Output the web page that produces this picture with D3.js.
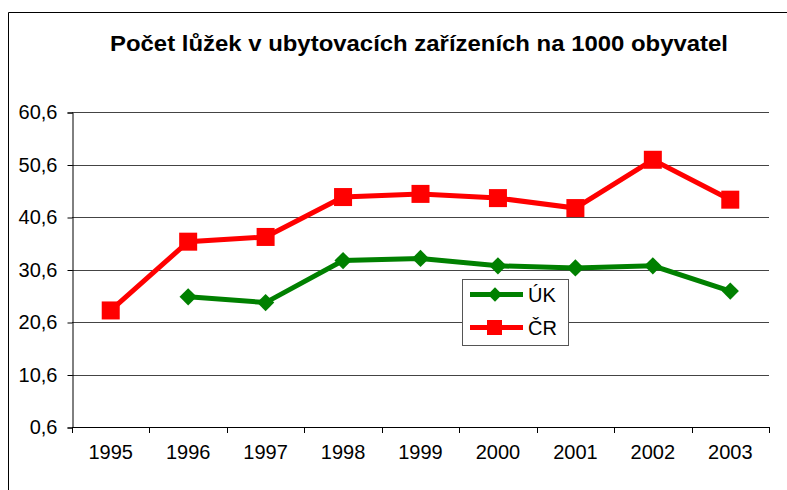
<!DOCTYPE html>
<html>
<head>
<meta charset="utf-8">
<script src="https://cdn.jsdelivr.net/npm/d3@7"></script>
<style>
  body { margin: 0; background: #fff; }
  text { font-family: "Liberation Sans", Arial, sans-serif; }
</style>
</head>
<body>
<script>
// data
var years = ["1995", "1996", "1997", "1998", "1999", "2000", "2001", "2002", "2003"];
var ukValues = [null, 25.4, 24.3, 32.3, 32.7, 31.3, 30.9, 31.3, 26.5];
var crValues = [22.8, 35.9, 36.8, 44.4, 45.0, 44.2, 42.3, 51.5, 43.9];
var yTicks = [0.6, 10.6, 20.6, 30.6, 40.6, 50.6, 60.6];
var title = "Počet lůžek v ubytovacích zařízeních na 1000 obyvatel";

var width = 787,
    height = 490;

var plot = { left: 72, top: 112, right: 769, bottom: 427 };

var svg = d3.select("body").append("svg")
    .attr("width", width)
    .attr("height", height);

// outer chart frame (right and bottom edges fall outside the picture)
svg.append("path")
    .attr("d", "M8.5,491 V12.5 H790")
    .attr("fill", "none")
    .attr("stroke", "#000")
    .attr("stroke-width", 1);

// title is stretched wide in the original
svg.append("text")
    .attr("x", 110)
    .attr("y", 51)
    .attr("textLength", 618)
    .attr("lengthAdjust", "spacingAndGlyphs")
    .style("font-size", "22px")
    .style("font-weight", "bold")
    .text(title);

var x = d3.scaleBand()
    .domain(years)
    .range([plot.left, plot.right]);

var y = d3.scaleLinear()
    .domain([0.6, 60.6])
    .range([plot.bottom, plot.top]);

var fmt = function (d) { return d3.format(".1f")(d).replace(".", ","); };

// gridlines
svg.append("g")
    .selectAll("line")
    .data(yTicks.slice(1))
    .enter().append("line")
    .attr("x1", plot.left)
    .attr("x2", plot.right)
    .attr("y1", function (d) { return Math.round(y(d)) + 0.5; })
    .attr("y2", function (d) { return Math.round(y(d)) + 0.5; })
    .attr("stroke", "#444")
    .attr("stroke-width", 1);

// y axis
var yAxis = d3.axisLeft(y)
    .tickValues(yTicks)
    .tickFormat(fmt)
    .tickSize(5)
    .tickPadding(10);

var gy = svg.append("g")
    .attr("transform", "translate(" + (plot.left + 0.5) + ",0.5)")
    .call(yAxis);
gy.selectAll("text").style("font-size", "20px").attr("fill", "#000");
gy.select(".domain").attr("stroke", "#000");

// x axis, ticks between categories
var xAxis = d3.axisBottom(x)
    .tickSize(0)
    .tickPadding(24);

var gx = svg.append("g")
    .attr("transform", "translate(0," + (plot.bottom + 0.5) + ")")
    .call(xAxis);
gx.select(".domain").attr("d", "M" + plot.left + ",0H" + plot.right).attr("stroke", "#000");
gx.selectAll("text").style("font-size", "20px").attr("fill", "#000").attr("dy", "0.36em");

svg.append("g")
    .selectAll("line")
    .data(years.map(function (d) { return x(d); }).concat([plot.right]))
    .enter().append("line")
    .attr("x1", function (d) { return Math.round(d) + 0.5; })
    .attr("x2", function (d) { return Math.round(d) + 0.5; })
    .attr("y1", plot.bottom)
    .attr("y2", plot.bottom + 6)
    .attr("stroke", "#000");

var cx = function (d, i) { return x(years[i]) + x.bandwidth() / 2; };

var line = d3.line()
    .defined(function (d) { return d != null; })
    .x(cx)
    .y(function (d) { return y(d); });

// ČR series
svg.append("path")
    .datum(crValues)
    .attr("d", line)
    .attr("fill", "none")
    .attr("stroke", "#ff0000")
    .attr("stroke-width", 5);

svg.append("g")
    .selectAll("rect")
    .data(crValues.map(function (d, i) { return { v: d, i: i }; })
        .filter(function (d) { return d.v != null; }))
    .enter().append("rect")
    .attr("x", function (d) { return cx(d.v, d.i) - 9; })
    .attr("y", function (d) { return y(d.v) - 9; })
    .attr("width", 18)
    .attr("height", 18)
    .attr("fill", "#ff0000");

// ÚK series
svg.append("path")
    .datum(ukValues)
    .attr("d", line)
    .attr("fill", "none")
    .attr("stroke", "#008000")
    .attr("stroke-width", 5);

var diamond = d3.symbol().type(d3.symbolDiamond2).size(190);

svg.append("g")
    .selectAll("path")
    .data(ukValues.map(function (d, i) { return { v: d, i: i }; })
        .filter(function (d) { return d.v != null; }))
    .enter().append("path")
    .attr("d", diamond)
    .attr("transform", function (d) {
        return "translate(" + cx(d.v, d.i) + "," + y(d.v) + ")";
    })
    .attr("fill", "#008000");

// legend
var legend = svg.append("g").attr("transform", "translate(462,279.5)");
legend.append("rect")
    .attr("x", 0.5)
    .attr("width", 106)
    .attr("height", 66)
    .attr("fill", "#fff")
    .attr("stroke", "#555");

var items = [
    { name: "ÚK", color: "#008000", shape: "diamond" },
    { name: "ČR", color: "#ff0000", shape: "square" }
];

items.forEach(function (it, k) {
    var ly = 15 + k * 33;
    legend.append("line")
        .attr("x1", 8).attr("x2", 61)
        .attr("y1", ly).attr("y2", ly)
        .attr("stroke", it.color)
        .attr("stroke-width", 5);
    if (it.shape === "square") {
        legend.append("rect")
            .attr("x", 25).attr("y", ly - 7.5)
            .attr("width", 15).attr("height", 15)
            .attr("fill", it.color);
    } else {
        legend.append("path")
            .attr("d", d3.symbol().type(d3.symbolDiamond2).size(130))
            .attr("transform", "translate(33," + ly + ")")
            .attr("fill", it.color);
    }
    legend.append("text")
        .attr("x", 66)
        .attr("y", ly)
        .attr("dy", "0.36em")
        .style("font-size", "20px")
        .text(it.name);
});
</script>
</body>
</html>
